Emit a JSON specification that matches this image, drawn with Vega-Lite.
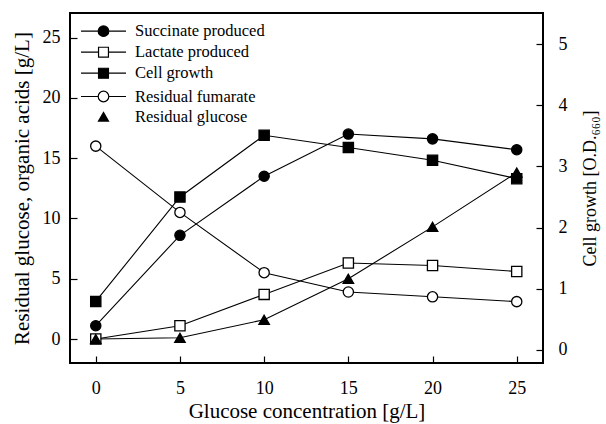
{
  "$schema": "https://vega.github.io/schema/vega-lite/v6.json",
  "width": 473,
  "height": 350,
  "autosize": {"type": "none"},
  "padding": {"left": 70, "top": 13, "right": 63, "bottom": 61},
  "background": "white",
  "config": {
    "view": {"stroke": "black", "strokeWidth": 2},
    "font": "Liberation Serif",
    "point": {"stroke": "black"},
    "axis": {
      "grid": false, "domain": false, "tickColor": "black", "tickSize": -7, "tickWidth": 1.2,
      "labelFont": "Liberation Serif", "labelFontSize": 18, "labelColor": "black",
      "titleFont": "Liberation Serif", "titleFontSize": 21, "titleFontWeight": "normal", "titleColor": "black"
    },
    "legend": {
      "labelFont": "Liberation Serif", "labelFontSize": 16.5, "labelColor": "black",
      "title": null, "orient": "none", "padding": 0, "legendX": 10,
      "symbolSize": 2025, "symbolStrokeColor": "black", "symbolStrokeWidth": 1.2, "symbolOpacity": 1,
      "labelOffset": 8
    }
  },
  "datasets": {
    "d": [
      {"series": "Succinate produced", "glucose": 0, "value": 1.1},
      {"series": "Succinate produced", "glucose": 5, "value": 8.6},
      {"series": "Succinate produced", "glucose": 10, "value": 13.5},
      {"series": "Succinate produced", "glucose": 15, "value": 17.0},
      {"series": "Succinate produced", "glucose": 20, "value": 16.6},
      {"series": "Succinate produced", "glucose": 25, "value": 15.7},
      {"series": "Lactate produced", "glucose": 0, "value": 0},
      {"series": "Lactate produced", "glucose": 5, "value": 1.1},
      {"series": "Lactate produced", "glucose": 10, "value": 3.7},
      {"series": "Lactate produced", "glucose": 15, "value": 6.3},
      {"series": "Lactate produced", "glucose": 20, "value": 6.1},
      {"series": "Lactate produced", "glucose": 25, "value": 5.6},
      {"series": "Cell  growth", "glucose": 0, "value": 0.79},
      {"series": "Cell  growth", "glucose": 5, "value": 2.5},
      {"series": "Cell  growth", "glucose": 10, "value": 3.51},
      {"series": "Cell  growth", "glucose": 15, "value": 3.31},
      {"series": "Cell  growth", "glucose": 20, "value": 3.1},
      {"series": "Cell  growth", "glucose": 25, "value": 2.8},
      {"series": "Residual fumarate", "glucose": 0, "value": 16.0},
      {"series": "Residual fumarate", "glucose": 5, "value": 10.5},
      {"series": "Residual fumarate", "glucose": 10, "value": 5.5},
      {"series": "Residual fumarate", "glucose": 15, "value": 3.9},
      {"series": "Residual fumarate", "glucose": 20, "value": 3.5},
      {"series": "Residual fumarate", "glucose": 25, "value": 3.1},
      {"series": "Residual glucose", "glucose": 0, "value": 0},
      {"series": "Residual glucose", "glucose": 5, "value": 0.1},
      {"series": "Residual glucose", "glucose": 10, "value": 1.6},
      {"series": "Residual glucose", "glucose": 15, "value": 5.0},
      {"series": "Residual glucose", "glucose": 20, "value": 9.3},
      {"series": "Residual glucose", "glucose": 25, "value": 13.8}
    ]
  },
  "data": {"name": "d"},
  "encoding": {
    "x": {
      "field": "glucose", "type": "quantitative",
      "scale": {"domain": [-1.53, 26.56], "nice": false, "zero": false},
      "axis": {"values": [0, 5, 10, 15, 20, 25], "title": "Glucose concentration [g/L]", "labelPadding": 23, "titlePadding": 3}
    }
  },
  "layer": [
    {
      "transform": [{"filter": "datum.series !== 'Cell  growth'"}],
      "mark": {"type": "line", "stroke": "black", "strokeWidth": 1.1},
      "encoding": {
        "y": {
          "field": "value", "type": "quantitative",
          "scale": {"domain": [-1.99, 27.04], "nice": false, "zero": false},
          "axis": {"orient": "left", "values": [0, 5, 10, 15, 20, 25], "title": "Residual glucose, organic acids [g/L]", "labelPadding": 17, "titlePadding": 10}
        },
        "detail": {"field": "series"}
      }
    },
    {
      "transform": [{"filter": "datum.series === 'Cell  growth'"}],
      "mark": {"type": "line", "stroke": "black", "strokeWidth": 1.1},
      "encoding": {
        "y": {
          "field": "value", "type": "quantitative",
          "scale": {"domain": [-0.217, 5.511], "nice": false, "zero": false},
          "axis": {"orient": "right", "values": [0, 1, 2, 3, 4, 5], "title": "Cell growth [O.D.₆₆₀]", "titleFontSize": 18, "labelPadding": 22, "titlePadding": 14, "titleAngle": 270, "titleBaseline": "top"}
        }
      }
    },
    {
      "transform": [{"filter": "datum.series === 'Cell  growth'"}],
      "mark": {"type": "point", "shape": "square", "filled": true, "fill": "black", "strokeWidth": 1.3, "size": 105, "opacity": 1},
      "encoding": {
        "y": {
          "field": "value", "type": "quantitative",
          "scale": {"domain": [-0.217, 5.511], "nice": false, "zero": false},
          "axis": null
        },
        "stroke": {
          "field": "series", "type": "nominal",
          "scale": {"domain": ["Cell  growth"], "range": ["black"]},
          "legend": {"legendY": 36.7, "symbolFillColor": "black", "symbolType": "M-1,0H-0.22M0.22,0H1M-0.22,-0.22H0.22V0.22H-0.22Z"}
        }
      }
    },
    {
      "transform": [{"filter": "datum.series === 'Succinate produced' || datum.series === 'Residual fumarate'"}],
      "mark": {"type": "point", "shape": "circle", "filled": true, "stroke": "black", "strokeWidth": 1.3, "size": 105, "opacity": 1},
      "encoding": {
        "y": {
          "field": "value", "type": "quantitative",
          "scale": {"domain": [-1.99, 27.04], "nice": false, "zero": false},
          "axis": null
        },
        "fill": {
          "field": "series", "type": "nominal",
          "scale": {"domain": ["Succinate produced", "Residual fumarate"], "range": ["black", "white"]},
          "legend": {"legendY": -5.3, "rowPadding": 33.3, "symbolType": "M-1,0H-0.235M0.235,0H1M0.235,0A0.235,0.235 0 1,1 -0.235,0A0.235,0.235 0 1,1 0.235,0Z"}
        }
      }
    },
    {
      "transform": [{"filter": "datum.series === 'Lactate produced'"}],
      "mark": {"type": "point", "shape": "square", "filled": true, "stroke": "black", "strokeWidth": 1.3, "size": 105, "opacity": 1},
      "encoding": {
        "y": {
          "field": "value", "type": "quantitative",
          "scale": {"domain": [-1.99, 27.04], "nice": false, "zero": false},
          "axis": null
        },
        "color": {
          "field": "series", "type": "nominal",
          "scale": {"domain": ["Lactate produced"], "range": ["white"]},
          "legend": {"legendY": 15.7, "symbolType": "M-1,0H-0.22M0.22,0H1M-0.22,-0.22H0.22V0.22H-0.22Z"}
        }
      }
    },
    {
      "transform": [{"filter": "datum.series === 'Residual glucose'"}],
      "mark": {"type": "point", "shape": "triangle-up", "filled": true, "fill": "black", "stroke": "black", "strokeWidth": 1.3, "size": 110},
      "encoding": {
        "y": {
          "field": "value", "type": "quantitative",
          "scale": {"domain": [-1.99, 27.04], "nice": false, "zero": false},
          "axis": null
        },
        "opacity": {
          "field": "series", "type": "ordinal",
          "scale": {"domain": ["Residual glucose"], "range": [1]},
          "legend": {"legendY": 80.7, "symbolFillColor": "black", "symbolType": "M-1,0H1M0,-0.27L0.27,0.2H-0.27Z"}
        }
      }
    }
  ],
  "resolve": {"scale": {"y": "independent"}}
}
